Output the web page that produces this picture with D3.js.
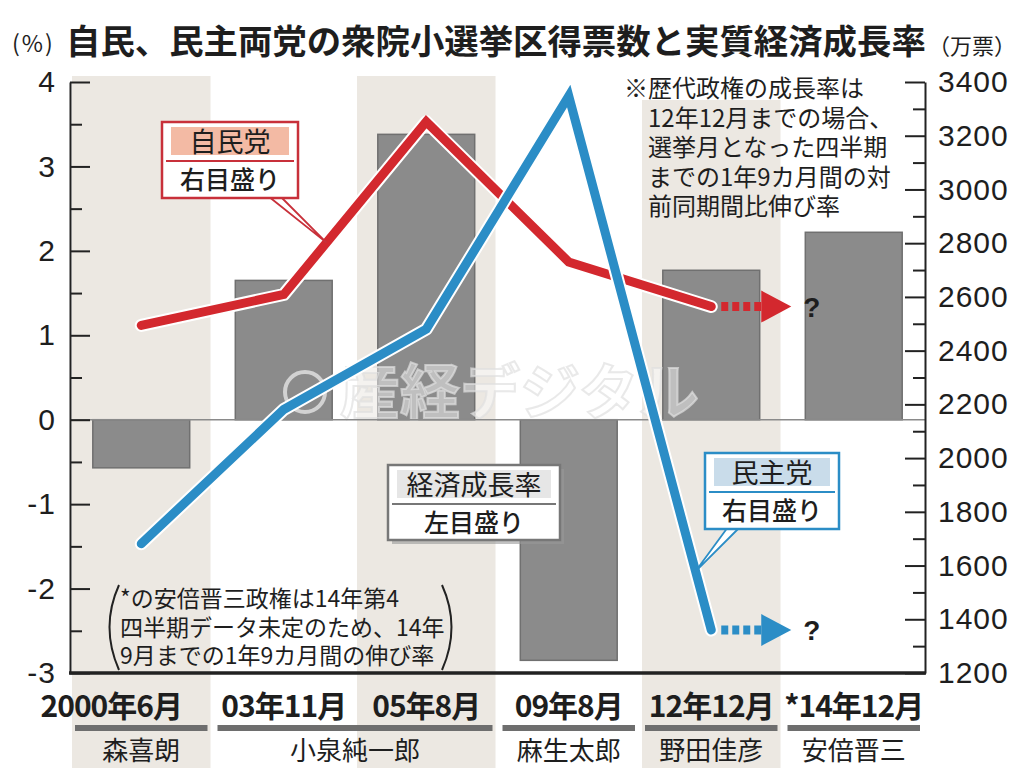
<!DOCTYPE html>
<html>
<head>
<meta charset="utf-8">
<script src="https://cdn.jsdelivr.net/npm/d3@7"></script>
<style>
body { margin: 0; background: #fff; }
text { font-family: "Noto Sans CJK JP", sans-serif; fill: #1e1e1e; }
.num { font-family: "Liberation Sans", Arial, sans-serif; }
</style>
</head>
<body>
<svg id="chart" width="1024" height="776"></svg>
<script>
// values
var periods = ["2000年6月", "03年11月", "05年8月", "09年8月", "12年12月", "*14年12月"];
var growth = [-0.57, 1.65, 3.38, -2.85, 1.77, 2.22];      // % (left)
var ldpVotes = [2494, 2609, 3252, 2730, 2564];             // 万票 (right)
var dpjVotes = [1681, 2181, 2480, 3348, 1360];             // 万票 (right)

var leftTicks = [-3, -2, -1, 0, 1, 2, 3, 4];
var leftMinor = [-2.5, -1.5, -0.5, 0.5, 1.5, 2.5, 3.5];
var rightTicks = [1200, 1400, 1600, 1800, 2000, 2200, 2400, 2600, 2800, 3000, 3200, 3400];
var rightMinor = [1300, 1500, 1700, 1900, 2100, 2300, 2500, 2700, 2900, 3100, 3300];

var cabinets = [
  { name: "森喜朗", first: 0, last: 0 },
  { name: "小泉純一郎", first: 1, last: 2 },
  { name: "麻生太郎", first: 3, last: 3 },
  { name: "野田佳彦", first: 4, last: 4 },
  { name: "安倍晋三", first: 5, last: 5 }
];

var noteTop = ["※歴代政権の成長率は", "12年12月までの場合、", "選挙月となった四半期", "までの1年9カ月間の対", "前同期間比伸び率"];
var noteBottom = ["*の安倍晋三政権は14年第4", "四半期データ未定のため、14年", "9月までの1年9カ月間の伸び率"];

var svg = d3.select("#chart");
var plotL = 70, plotR = 925, plotT = 82, plotB = 673;

var x = d3.scaleBand().domain(periods).range([plotL, plotR]);
var bw = x.bandwidth();
var xc = function(i) { return x(periods[i]) + bw / 2; };
var yL = d3.scaleLinear().domain([-3, 4]).range([plotB, plotT]);
var yR = d3.scaleLinear().domain([1200, 3400]).range([plotB, plotT]);

// shaded bands
svg.selectAll("rect.band")
  .data(periods.filter(function(d, i) { return i % 2 === 0; }))
  .enter().append("rect")
  .attr("class", "band")
  .attr("x", function(d) { return x(d) + 2; })
  .attr("width", bw - 4)
  .attr("y", 76)
  .attr("height", 692)
  .attr("fill", "#ece8e2");

// white behind the first line of the top note
svg.append("rect").attr("x", 616).attr("y", 70).attr("width", 300).attr("height", 30).attr("fill", "#fff");

// growth bars
var barW = bw * 0.68;
svg.selectAll("rect.bar")
  .data(growth)
  .enter().append("rect")
  .attr("class", "bar")
  .attr("x", function(d, i) { return xc(i) - barW / 2; })
  .attr("y", function(d) { return yL(Math.max(0, d)); })
  .attr("width", barW)
  .attr("height", function(d) { return Math.abs(yL(d) - yL(0)); })
  .attr("fill", "#8b8b8b")
  .attr("stroke", "#707070")
  .attr("stroke-width", 1.5);

// watermark
svg.append("circle").attr("cx", 305).attr("cy", 392).attr("r", 20)
  .attr("fill", "none").attr("stroke", "#e4e4e4").attr("stroke-width", 4).attr("opacity", 0.8);
svg.append("text")
  .attr("x", 340).attr("y", 414)
  .attr("font-size", 60).attr("font-weight", "bold")
  .style("fill", "#fff").style("fill-opacity", 0.45)
  .attr("stroke", "#e0e0e0").attr("stroke-width", 2).attr("stroke-opacity", 0.7)
  .text("産経デジタル");

// zero line
svg.append("line")
  .attr("x1", plotL).attr("x2", plotR)
  .attr("y1", yL(0)).attr("y2", yL(0))
  .attr("stroke", "#8a8a8a").attr("stroke-width", 1.5);

// left axis
var gL = svg.append("g").attr("transform", "translate(" + plotL + ",0)");
gL.call(d3.axisLeft(yL).tickValues(leftTicks).tickSize(-20).tickSizeOuter(0).tickPadding(14)
  .tickFormat(function(d) { return String(d); }));
gL.append("g").call(d3.axisLeft(yL).tickValues(leftMinor).tickSize(-12).tickSizeOuter(0).tickFormat(""))
  .select(".domain").remove();

// right axis
var gR = svg.append("g").attr("transform", "translate(" + plotR + ",0)");
gR.call(d3.axisRight(yR).tickValues(rightTicks).tickSize(-20).tickSizeOuter(0).tickPadding(13)
  .tickFormat(function(d) { return String(d); }));
gR.append("g").call(d3.axisRight(yR).tickValues(rightMinor).tickSize(-12).tickSizeOuter(0).tickFormat(""))
  .select(".domain").remove();

svg.selectAll(".tick line").attr("stroke", "#222").attr("stroke-width", 2);
svg.selectAll(".domain").attr("stroke", "#222").attr("stroke-width", 2);
svg.selectAll(".tick text")
  .attr("class", "num")
  .attr("font-size", 30)
  .style("letter-spacing", "1px")
  .style("fill", "#1e1e1e");

// bottom axis
svg.append("line")
  .attr("x1", plotL - 1).attr("x2", plotR + 1)
  .attr("y1", plotB).attr("y2", plotB)
  .attr("stroke", "#222").attr("stroke-width", 3.5);

// vote lines
var line = d3.line()
  .x(function(d, i) { return xc(i); })
  .y(function(d) { return yR(d); });

function drawSeries(values, color) {
  svg.append("path").datum(values).attr("d", line)
    .attr("fill", "none").attr("stroke", "#fff").attr("stroke-width", 13)
    .attr("stroke-linejoin", "round").attr("stroke-linecap", "round");
  svg.append("path").datum(values).attr("d", line)
    .attr("fill", "none").attr("stroke", color).attr("stroke-width", 9)
    .attr("stroke-linejoin", "miter").attr("stroke-linecap", "round");

  // dotted arrow to the unknown next value
  var n = values.length - 1;
  var ax = xc(n), ay = yR(values[n]);
  svg.append("line")
    .attr("x1", ax + 10).attr("x2", ax + 52)
    .attr("y1", ay).attr("y2", ay)
    .attr("stroke", color).attr("stroke-width", 9)
    .attr("stroke-dasharray", "7,4");
  svg.append("path")
    .attr("d", "M" + (ax + 50) + "," + (ay - 16) + "L" + (ax + 80) + "," + ay + "L" + (ax + 50) + "," + (ay + 16) + "Z")
    .attr("fill", color);
  svg.append("text")
    .attr("class", "num")
    .attr("x", ax + 92).attr("y", ay + 10)
    .attr("font-size", 28).attr("font-weight", "bold")
    .text("?");
}
drawSeries(ldpVotes, "#d3282e");
drawSeries(dpjVotes, "#2b8dc6");

// callouts
function pointOn(values, i, t) {
  return [xc(i) + t * (xc(i + 1) - xc(i)), yR(values[i]) + t * (yR(values[i + 1]) - yR(values[i]))];
}

function callout(bx, by, w, h, title, sub, color, fill, shadow, tip) {
  var g = svg.append("g");
  if (tip) {
    g.append("path")
      .attr("d", "M" + (tip.at - 6) + "," + (by + h - 2) + "L" + tip.p[0] + "," + tip.p[1] + "L" + (tip.at + 6) + "," + (by + h - 2))
      .attr("fill", "#fff").attr("stroke", color).attr("stroke-width", 1.8);
  }
  if (shadow) {
    g.append("rect").attr("x", bx + 4).attr("y", by + 4).attr("width", w).attr("height", h)
      .attr("fill", "#9a9a9a").attr("opacity", 0.6);
  }
  g.append("rect").attr("x", bx).attr("y", by).attr("width", w).attr("height", h)
    .attr("fill", "#fff").attr("stroke", color).attr("stroke-width", 2.5);
  g.append("rect").attr("x", bx + 9).attr("y", by + 5).attr("width", w - 18).attr("height", 28)
    .attr("fill", fill);
  g.append("line").attr("x1", bx + 4).attr("x2", bx + w - 4)
    .attr("y1", by + 39).attr("y2", by + 39)
    .attr("stroke", color).attr("stroke-width", 2);
  g.append("text").attr("x", bx + w / 2).attr("y", by + 30)
    .attr("text-anchor", "middle").attr("font-size", 27).text(title);
  g.append("text").attr("x", bx + w / 2).attr("y", by + 67)
    .attr("text-anchor", "middle").attr("font-size", 25).attr("font-weight", 500).text(sub);
}

callout(162, 122, 136, 76, "自民党", "右目盛り", "#c8303a", "#f3baa4", false,
  { at: 274, p: pointOn(ldpVotes, 1, 0.3) });
callout(388, 465, 172, 75, "経済成長率", "左目盛り", "#777", "#e6e6e6", true, null);
callout(705, 453, 134, 76, "民主党", "右目盛り", "#2b8dc6", "#c9dcea", false,
  { at: 734, p: pointOn(dpjVotes, 3, 0.89) });

// notes
svg.selectAll("text.noteTop")
  .data(noteTop)
  .enter().append("text")
  .attr("class", "noteTop")
  .attr("x", function(d, i) { return i === 0 ? 624 : 648; })
  .attr("y", function(d, i) { return 97 + i * 29.5; })
  .attr("font-size", 24)
  .text(function(d) { return d; });

svg.selectAll("text.noteBottom")
  .data(noteBottom)
  .enter().append("text")
  .attr("class", "noteBottom")
  .attr("x", 120)
  .attr("y", function(d, i) { return 607 + i * 28.5; })
  .attr("font-size", 23)
  .text(function(d) { return d; });
svg.append("path").attr("d", "M119,585 Q100,627 119,670")
  .attr("fill", "none").attr("stroke", "#222").attr("stroke-width", 2);
svg.append("path").attr("d", "M442,585 Q461,627 442,670")
  .attr("fill", "none").attr("stroke", "#222").attr("stroke-width", 2);

// period labels
svg.selectAll("text.period")
  .data(periods)
  .enter().append("text")
  .attr("class", "period")
  .attr("x", function(d, i) { return xc(i) + (i === 0 ? -30 : 0); })
  .attr("y", 717)
  .attr("text-anchor", "middle")
  .attr("font-size", 30)
  .attr("font-weight", "bold")
  .style("letter-spacing", "-1px")
  .text(function(d) { return d; });

// cabinet bars and names
svg.selectAll("line.cab")
  .data(cabinets)
  .enter().append("line")
  .attr("class", "cab")
  .attr("x1", function(d) { return x(periods[d.first]) + 5; })
  .attr("x2", function(d) { return x(periods[d.last]) + bw - 5; })
  .attr("y1", 728).attr("y2", 728)
  .attr("stroke", "#6e6e6e").attr("stroke-width", 6);

svg.selectAll("text.cab")
  .data(cabinets)
  .enter().append("text")
  .attr("class", "cab")
  .attr("x", function(d) { return (x(periods[d.first]) + x(periods[d.last]) + bw) / 2; })
  .attr("y", 760)
  .attr("text-anchor", "middle")
  .attr("font-size", 26)
  .text(function(d) { return d.name; });

// title
svg.append("text").attr("x", 12).attr("y", 52).attr("font-size", 23)
  .style("letter-spacing", "2px").text("(%)");
svg.append("text").attr("x", 66).attr("y", 54).attr("font-size", 34.4).attr("font-weight", "bold")
  .text("自民、民主両党の衆院小選挙区得票数と実質経済成長率");
svg.append("text").attr("x", 928).attr("y", 54).attr("font-size", 22).text("（万票）");
</script>
</body>
</html>
